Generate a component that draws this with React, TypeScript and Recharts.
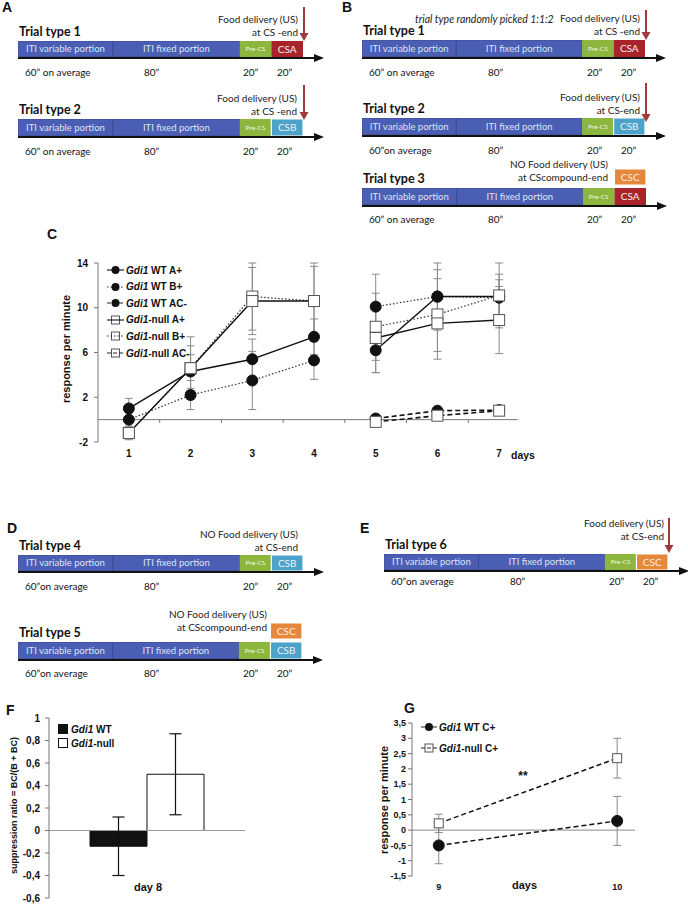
import React from 'react';
import {
  BarChart,
  Bar,
  LineChart,
  Line,
  XAxis,
  YAxis,
  ReferenceLine,
  ErrorBar,
  LabelList,
} from 'recharts';

// ---- trial schematics (A, B, D, E) ----
const segmentNames = ['ITI variable portion', 'ITI fixed portion', 'Pre-CS'];
const segmentSeconds = [60, 80, 20, 20];
const timeLabels = ['60\u201D on average', '80\u201D', '20\u201D', '20\u201D'];

// ---- panel C: acquisition, days 1-7 ----
const days = [1, 2, 3, 4, 5, 6, 7];
const wtA = [1.0, 4.3, 5.4, 7.4, 6.2, 11.0, 11.0];
const wtAErr = [0.9, 1.5, 1.8, 1.6, 2.0, 1.6, 2.0];
const wtB = [0.0, 2.2, 3.5, 5.3, 10.1, 11.0, 10.9];
const wtBErr = [0.6, 1.3, 2.6, 1.7, 2.9, 3.0, 1.6];
const wtAC = [null, null, null, null, 0.1, 0.8, 0.85];
const wtACErr = [null, null, null, null, 0.3, 0.2, 0.3];
const nullA = [-1.2, 4.6, 10.6, 10.6, 7.3, 8.6, 8.9];
const nullAErr = [0.5, 2.8, 3.0, 3.4, 3.1, 2.5, 3.0];
const nullB = [-1.2, 4.6, 11.0, 10.6, 8.3, 9.4, 11.1];
const nullBErr = [0.6, 2.0, 3.0, 3.1, 3.0, 4.0, 2.9];
const nullAC = [null, null, null, null, -0.2, 0.35, 0.8];
const nullACErr = [null, null, null, null, 0.3, 0.2, 0.4];
const cTicks = [-2, 2, 6, 10, 14];
const cLegend = [
  { group: 'WT A+', shape: 'circle', dash: '' },
  { group: 'WT B+', shape: 'circle', dash: '1.5 2' },
  { group: 'WT AC-', shape: 'circle', dash: '4 2' },
  { group: '-null A+', shape: 'square', dash: '' },
  { group: '-null B+', shape: 'square', dash: '1.5 2' },
  { group: '-null AC-', shape: 'square', dash: '4 2' },
];

// ---- panel F: suppression ratio, day 8 ----
const fGroups = ['WT', '-null'];
const fValues = [-0.14, 0.5];
const fErrors = [0.26, 0.36];
const fTicks = [-0.6, -0.4, -0.2, 0, 0.2, 0.4, 0.6, 0.8, 1];

// ---- panel G: C+ , days 9-10 ----
const gDays = [9, 10];
const gWt = [-0.5, 0.3];
const gWtErr = [0.6, 0.8];
const gNull = [0.22, 2.35];
const gNullErr = [0.3, 0.65];
const gTicks = [-1.5, -1, -0.5, 0, 0.5, 1, 1.5, 2, 2.5, 3, 3.5];

const SANS = '"Liberation Sans", Arial, sans-serif';
const CALIBRI = 'Lato, "Open Sans", sans-serif';
const ITI_BLUE = '#4a5fb3';
const ITI_EDGE = '#3a4b93';
const PRE_GREEN = '#8db63e';
const CS_COLORS: Record<string, string> = { CSA: '#a8242a', CSB: '#4ba3c9', CSC: '#e6873a' };
const RED_ARROW = '#a23a3c';
const timeOffsets = [7, 126, 225, 259];

const comma = (v: number) => String(v).replace('.', ',');

const cRows: any[] = [];
days.forEach((d, i) => {
  if (d === 5) cRows.push({ day: 4.5 }); // break between day 4 and day 5
  cRows.push({
    day: d,
    wtA: wtA[i], wtAErr: wtAErr[i],
    wtB: wtB[i], wtBErr: wtBErr[i],
    wtAC: wtAC[i], wtACErr: wtACErr[i] ?? undefined,
    nullA: nullA[i], nullAErr: nullAErr[i],
    nullB: nullB[i], nullBErr: nullBErr[i],
    nullAC: nullAC[i], nullACErr: nullACErr[i] ?? undefined,
  });
});

const fRows = [{ day: 'day 8', wt: fValues[0], wtErr: fErrors[0], ko: fValues[1], koErr: fErrors[1] }];
const gRows = gDays.map((d, i) => ({ day: d, wt: gWt[i], wtErr: gWtErr[i], ko: gNull[i], koErr: gNullErr[i] }));

function Txt({ x, y, size = 10, weight = 400, italic = false, align = 'left', font = SANS, color = '#111', children }: any) {
  const lh = Math.round(size * 1.25);
  const style: React.CSSProperties = {
    position: 'absolute', top: y - lh / 2, fontSize: size, lineHeight: `${lh}px`, fontWeight: weight,
    fontStyle: italic ? 'italic' : 'normal', fontFamily: font, color, whiteSpace: 'nowrap',
  };
  if (align === 'right') { style.left = x - 400; style.width = 400; style.textAlign = 'right'; }
  else if (align === 'center') { style.left = x - 200; style.width = 400; style.textAlign = 'center'; }
  else style.left = x;
  return <div style={style}>{children}</div>;
}

function VTxt({ x, y, size = 11, children }: any) {
  const lh = Math.round(size * 1.25);
  return (
    <div style={{
      position: 'absolute', left: x - 150, width: 300, top: y - lh / 2, textAlign: 'center', fontSize: size,
      lineHeight: `${lh}px`, fontWeight: 700, fontFamily: SANS, color: '#111', transform: 'rotate(-90deg)', whiteSpace: 'nowrap',
    }}>{children}</div>
  );
}

function Gdi({ rest }: { rest: string }) {
  return <span><i>Gdi1</i>{rest.startsWith('-') ? rest : ' ' + rest}</span>;
}

// label drawn in the middle of a bar segment, on one line
const segLabel = (text: string, size: number, fill: string) => (props: any) => {
  const vb = props.viewBox ?? props;
  const cx = vb.x + vb.width / 2;
  const cy = vb.y + vb.height / 2;
  return (
    <text x={cx} y={cy} dy="0.35em" textAnchor="middle" fontSize={size} fill={fill} fontFamily={CALIBRI}>
      {text}
    </text>
  );
};

function TrialBar({ width, height, csName, csOnly = false }: any) {
  const row = [{ trial: 'trial', variable: segmentSeconds[0], fixed: segmentSeconds[1], pre: segmentSeconds[2], cs: segmentSeconds[3] }];
  const total = segmentSeconds.reduce((a, b) => a + b, 0);
  return (
    <BarChart width={width} height={height} data={row} layout="vertical" margin={{ top: 0, right: 0, bottom: 0, left: 0 }} barCategoryGap={0}>
      <XAxis type="number" domain={[0, total]} hide />
      <YAxis type="category" dataKey="trial" hide />
      <Bar dataKey="variable" stackId="t" fill={csOnly ? 'none' : ITI_BLUE} stroke={csOnly ? 'none' : ITI_EDGE} isAnimationActive={false}>
        {!csOnly && <LabelList dataKey="variable" content={segLabel(segmentNames[0], 9.5, '#dfe3f6')} />}
      </Bar>
      <Bar dataKey="fixed" stackId="t" fill={csOnly ? 'none' : ITI_BLUE} stroke={csOnly ? 'none' : ITI_EDGE} isAnimationActive={false}>
        {!csOnly && <LabelList dataKey="fixed" content={segLabel(segmentNames[1], 9.5, '#dfe3f6')} />}
      </Bar>
      <Bar dataKey="pre" stackId="t" fill={csOnly ? 'none' : PRE_GREEN} stroke="none" isAnimationActive={false}>
        {!csOnly && <LabelList dataKey="pre" content={segLabel(segmentNames[2], 6.5, '#f2f6e6')} />}
      </Bar>
      <Bar dataKey="cs" stackId="t" fill={CS_COLORS[csName]} stroke={csName === 'CSA' ? 'none' : '#fff'} strokeWidth={1.2} isAnimationActive={false}>
        <LabelList dataKey="cs" content={segLabel(csName, 10, '#f6eeee')} />
      </Bar>
    </BarChart>
  );
}

function TrialRow({ left, top, width, height, title, csName, labelsDy = 15, tight = false, food, compound = false }: any) {
  const bottom = top + height;
  const arrowH = food?.arrow ? food.arrow[1] - food.arrow[0] : 0;
  return (
    <>
      <Txt x={left + 1} y={top - 9} size={12.5} weight={700} font={CALIBRI}>{title}</Txt>
      <div style={{ position: 'absolute', left, top }}>
        <TrialBar width={width} height={height} csName={csName} />
      </div>
      {compound && (
        <div style={{ position: 'absolute', left, top: top - 19 }}>
          <TrialBar width={width} height={16} csName="CSC" csOnly />
        </div>
      )}
      <svg style={{ position: 'absolute', left, top: bottom - 4 }} width={width + 24} height={10}>
        <line x1={0} y1={5} x2={width + 14} y2={5} stroke="#111" strokeWidth={2} />
        <polygon points={`${width + 11},1 ${width + 21},5 ${width + 11},9`} fill="#111" />
      </svg>
      {timeLabels.map((t, i) => (
        <Txt key={i} x={left + timeOffsets[i]} y={bottom + labelsDy} size={10} font={CALIBRI}>
          {i === 0 && tight ? t.replace(' ', '') : t}
        </Txt>
      ))}
      {food && food.lines.map((ln: string, i: number) => (
        <Txt key={'f' + i} x={left + width + food.right} y={top + food.dy + i * 13} size={10} align="right" font={CALIBRI} color="#222">{ln}</Txt>
      ))}
      {food?.arrow && (
        <svg style={{ position: 'absolute', left: left + width - 5, top: top + food.arrow[0] }} width={12} height={arrowH}>
          <line x1={6} y1={0} x2={6} y2={arrowH - 6} stroke={RED_ARROW} strokeWidth={2} />
          <polygon points={`1.5,${arrowH - 8} 10.5,${arrowH - 8} 6,${arrowH}`} fill={RED_ARROW} />
        </svg>
      )}
    </>
  );
}

const circleDot = (r: number) => (p: any) =>
  p.cy == null || isNaN(p.cy) || p.value == null
    ? <g key={p.index} />
    : <circle key={p.index} cx={p.cx} cy={p.cy} r={r} fill="#111" stroke="#111" />;

const squareDot = (s: number) => (p: any) =>
  p.cy == null || isNaN(p.cy) || p.value == null
    ? <g key={p.index} />
    : <rect key={p.index} x={p.cx - s / 2} y={p.cy - s / 2} width={s} height={s} fill="#fff" stroke="#555" strokeWidth={1} />;

function LegendMark({ shape, dash, w = 17 }: any) {
  return (
    <svg width={w} height={10} style={{ display: 'block' }}>
      {shape === 'square' && <rect x={w / 2 - 4} y={1} width={8} height={8} fill="#fff" stroke="#555" />}
      <line x1={0} y1={5} x2={w} y2={5} stroke="#222" strokeWidth={1.2} strokeDasharray={dash || undefined} />
      {shape === 'circle' && <circle cx={w / 2} cy={5} r={4} fill="#111" />}
    </svg>
  );
}

const tick10 = { fontSize: 10, fontWeight: 700, fill: '#111', fontFamily: SANS };
const tick9 = { fontSize: 9, fontWeight: 700, fill: '#111', fontFamily: SANS };
const axisGrey = { stroke: '#777' };

export default function App() {
  return (
    <div style={{ position: 'absolute', left: 0, top: 0, width: 688, height: 905, background: '#fff', overflow: 'hidden', fontFamily: SANS, color: '#111' }}>
      {/* panel letters */}
      <Txt x={2} y={7} size={14} weight={700}>A</Txt>
      <Txt x={342} y={7} size={14} weight={700}>B</Txt>
      <Txt x={47} y={234} size={14} weight={700}>C</Txt>
      <Txt x={7} y={528} size={14} weight={700}>D</Txt>
      <Txt x={360} y={528} size={14} weight={700}>E</Txt>
      <Txt x={6} y={710} size={14} weight={700}>F</Txt>
      <Txt x={404} y={708} size={14} weight={700}>G</Txt>

      {/* A */}
      <TrialRow left={18} top={41} width={285} height={16} title="Trial type 1" csName="CSA"
        food={{ lines: ['Food delivery (US)', 'at CS -end'], dy: -22, right: -5, arrow: [-34, 0] }} />
      <TrialRow left={18} top={119} width={285} height={17} title="Trial type 2" csName="CSB"
        food={{ lines: ['Food delivery (US)', 'at CS -end'], dy: -21, right: -6, arrow: [-34, 1] }} />

      {/* B */}
      <Txt x={415} y={19} size={10.5} italic font={CALIBRI} color="#222">trial type randomly picked 1:1:2</Txt>
      <TrialRow left={362} top={40} width={283} height={17} title="Trial type 1" csName="CSA"
        food={{ lines: ['Food delivery (US)', 'at CS -end'], dy: -22, right: -5, arrow: [-30, 0] }} />
      <TrialRow left={362} top={118} width={283} height={17} title="Trial type 2" csName="CSB" tight
        food={{ lines: ['Food delivery (US)', 'at CS-end'], dy: -21, right: -5, arrow: [-35, 4] }} />
      <TrialRow left={362} top={188} width={284} height={17} title="Trial type 3" csName="CSA" labelsDy={14} compound
        food={{ lines: ['NO Food delivery (US)', 'at CScompound-end'], dy: -24, right: -38 }} />

      {/* C */}
      <VTxt x={66} y={349} size={11}>response per minute</VTxt>
      <div style={{ position: 'absolute', left: 0, top: 250 }}>
        <LineChart width={560} height={217} data={cRows} margin={{ top: 13, right: 30, bottom: 0, left: 0 }}>
          <XAxis dataKey="day" type="number" domain={[0.5, 7.5]} ticks={days} interval={0} axisLine={false} tickLine={false} height={25} tick={tick10} allowDataOverflow />
          <YAxis type="number" domain={[-2, 14]} ticks={cTicks} interval={0} width={98} axisLine={axisGrey} tickLine={axisGrey} tickSize={4} tickMargin={6} tick={tick10} allowDataOverflow />
          <ReferenceLine segment={[{ x: 0.5, y: 0 }, { x: 7.3, y: 0 }]} stroke="#777" />
          {[1.5, 2.5, 3.5, 4.5, 5.5, 6.5].map((x) => (
            <ReferenceLine key={x} segment={[{ x, y: 0 }, { x, y: -0.3 }]} stroke="#777" />
          ))}
          <Line dataKey="wtAC" stroke="#111" strokeWidth={1.6} strokeDasharray="5 3" dot={circleDot(5.5)} activeDot={false} isAnimationActive={false}>
            <ErrorBar dataKey="wtACErr" width={4} stroke="#8a8a8a" strokeWidth={1} />
          </Line>
          <Line dataKey="wtB" stroke="#333" strokeWidth={1.2} strokeDasharray="1.5 2" dot={circleDot(5.5)} activeDot={false} isAnimationActive={false}>
            <ErrorBar dataKey="wtBErr" width={4} stroke="#8a8a8a" strokeWidth={1} />
          </Line>
          <Line dataKey="wtA" stroke="#111" strokeWidth={1.4} dot={circleDot(5.5)} activeDot={false} isAnimationActive={false}>
            <ErrorBar dataKey="wtAErr" width={4} stroke="#8a8a8a" strokeWidth={1} />
          </Line>
          <Line dataKey="nullAC" stroke="#111" strokeWidth={1.6} strokeDasharray="5 3" dot={squareDot(11)} activeDot={false} isAnimationActive={false}>
            <ErrorBar dataKey="nullACErr" width={4} stroke="#8a8a8a" strokeWidth={1} />
          </Line>
          <Line dataKey="nullB" stroke="#333" strokeWidth={1.2} strokeDasharray="1.5 2" dot={squareDot(11)} activeDot={false} isAnimationActive={false}>
            <ErrorBar dataKey="nullBErr" width={4} stroke="#8a8a8a" strokeWidth={1} />
          </Line>
          <Line dataKey="nullA" stroke="#111" strokeWidth={1.4} dot={squareDot(11)} activeDot={false} isAnimationActive={false}>
            <ErrorBar dataKey="nullAErr" width={4} stroke="#8a8a8a" strokeWidth={1} />
          </Line>
        </LineChart>
      </div>
      <Txt x={511} y={455} size={10.5} weight={700}>days</Txt>
      {cLegend.map((item, i) => (
        <div key={item.group} style={{ position: 'absolute', left: 107, top: 262 + i * 16.6, height: 16, display: 'flex', alignItems: 'center', fontSize: 10, fontWeight: 700, fontFamily: SANS, whiteSpace: 'nowrap' }}>
          <LegendMark shape={item.shape} dash={item.dash} />
          <span style={{ marginLeft: 2 }}><Gdi rest={item.group} /></span>
        </div>
      ))}

      {/* D */}
      <TrialRow left={18} top={555} width={285} height={16} title="Trial type 4" csName="CSB" tight
        food={{ lines: ['NO Food delivery (US)', 'at CS-end'], dy: -21, right: -5 }} />
      <TrialRow left={18} top={642} width={284} height={17} title="Trial type 5" csName="CSB" tight labelsDy={14} compound
        food={{ lines: ['NO Food delivery (US)', 'at CScompound-end'], dy: -28, right: -35 }} />

      {/* E */}
      <TrialRow left={384} top={554} width={284} height={16} title="Trial type 6" csName="CSC" tight labelsDy={11}
        food={{ lines: ['Food delivery (US)', 'at CS-end'], dy: -31, right: -4, arrow: [-36, -1] }} />

      {/* F */}
      <VTxt x={14} y={805} size={9}>suppression ratio = BC/(B + BC)</VTxt>
      <div style={{ position: 'absolute', left: 0, top: 710 }}>
        <BarChart width={260} height={195} data={fRows} margin={{ top: 8, right: 15, bottom: 7, left: 0 }} barGap={0} barSize={57}>
          <XAxis dataKey="day" hide />
          <YAxis type="number" domain={[-0.6, 1]} ticks={fTicks} interval={0} width={49} axisLine={axisGrey} tickLine={axisGrey} tickSize={4} tickMargin={5} tick={tick10} tickFormatter={comma} allowDataOverflow />
          <ReferenceLine y={0} stroke="#999" />
          <Bar dataKey="wt" fill="#111" stroke="#111" isAnimationActive={false}>
            <ErrorBar dataKey="wtErr" width={6} stroke="#111" strokeWidth={1.2} />
          </Bar>
          <Bar dataKey="ko" fill="#fff" stroke="#111" strokeWidth={1} isAnimationActive={false}>
            <ErrorBar dataKey="koErr" width={6} stroke="#111" strokeWidth={1.2} />
          </Bar>
        </BarChart>
      </div>
      <Txt x={148} y={887} size={11} weight={700} align="center">day 8</Txt>
      {fGroups.map((g, i) => (
        <div key={g} style={{ position: 'absolute', left: 58, top: 722 + i * 14, height: 14, display: 'flex', alignItems: 'center', fontSize: 10, fontWeight: 700, fontFamily: SANS, whiteSpace: 'nowrap' }}>
          <div style={{ width: 8, height: 8, background: i === 0 ? '#111' : '#fff', border: '1px solid #111' }} />
          <span style={{ marginLeft: 3 }}><Gdi rest={g} /></span>
        </div>
      ))}

      {/* G */}
      <VTxt x={384} y={800} size={11}>response per minute</VTxt>
      <div style={{ position: 'absolute', left: 362, top: 715 }}>
        <LineChart width={283} height={181} data={gRows} margin={{ top: 8, right: 10, bottom: 0, left: 0 }}>
          <XAxis dataKey="day" type="number" domain={[8.85, 10.1]} ticks={gDays} interval={0} axisLine={false} tickLine={false} height={20} tick={tick9} allowDataOverflow />
          <YAxis type="number" domain={[-1.5, 3.5]} ticks={gTicks} interval={0} width={50} axisLine={axisGrey} tickLine={axisGrey} tickSize={4} tickMargin={2} tick={tick9} tickFormatter={comma} allowDataOverflow />
          <ReferenceLine y={0} stroke="#888" />
          <Line dataKey="wt" stroke="#111" strokeWidth={1.5} strokeDasharray="5 3" dot={circleDot(5.5)} activeDot={false} isAnimationActive={false}>
            <ErrorBar dataKey="wtErr" width={4} stroke="#8a8a8a" strokeWidth={1} />
          </Line>
          <Line dataKey="ko" stroke="#111" strokeWidth={1.5} strokeDasharray="5 3" dot={squareDot(9)} activeDot={false} isAnimationActive={false}>
            <ErrorBar dataKey="koErr" width={4} stroke="#8a8a8a" strokeWidth={1} />
          </Line>
        </LineChart>
      </div>
      <Txt x={523} y={776} size={12} weight={700} align="center">**</Txt>
      <Txt x={512} y={885} size={11} weight={700}>days</Txt>
      {[{ g: 'WT C+', shape: 'circle' }, { g: '-null C+', shape: 'square' }].map((item, i) => (
        <div key={item.g} style={{ position: 'absolute', left: 421, top: 719 + i * 21, height: 16, display: 'flex', alignItems: 'center', fontSize: 10, fontWeight: 700, fontFamily: SANS, whiteSpace: 'nowrap' }}>
          <LegendMark shape={item.shape} dash="4 2" w={16} />
          <span style={{ marginLeft: 2 }}><Gdi rest={item.g} /></span>
        </div>
      ))}
    </div>
  );
}
